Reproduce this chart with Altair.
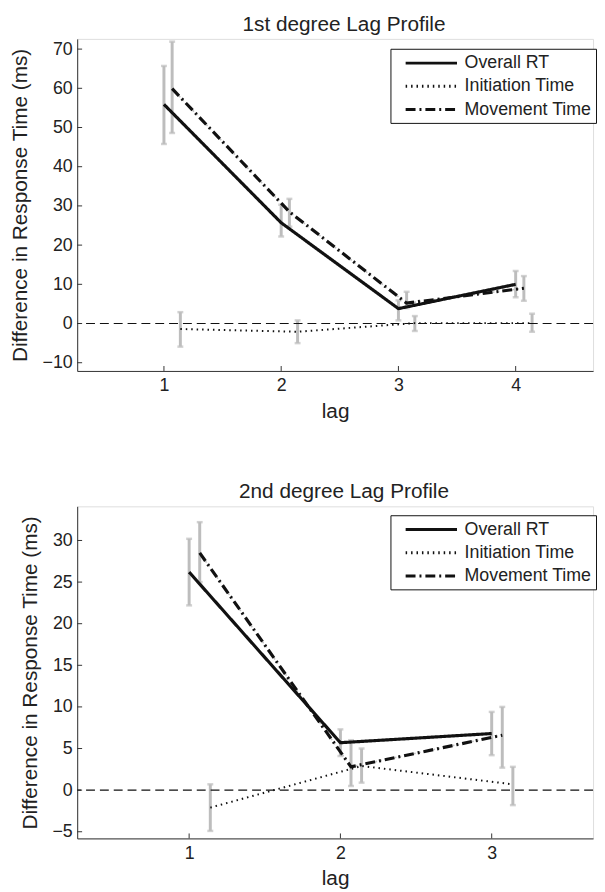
import altair as alt
import pandas as pd

SERIES = ["Overall RT", "Initiation Time", "Movement Time"]
OFFSETS = [0.0, 0.14, 0.07]

# ---- 1st degree lag profile ----
lags1 = [1, 2, 3, 4]
overall1 = [55.9, 25.7, 3.8, 10.0]
overall1_lo = [45.8, 22.2, 0.8, 6.7]
overall1_hi = [65.7, 30.3, 5.9, 13.4]
init1 = [-1.4, -2.1, 0.1, 0.1]
init1_lo = [-5.9, -5.0, -1.9, -2.1]
init1_hi = [2.9, 0.8, 1.9, 2.5]
move1 = [59.9, 28.5, 5.2, 9.0]
move1_lo = [48.6, 24.7, 3.9, 5.8]
move1_hi = [71.9, 31.8, 8.1, 12.1]

# ---- 2nd degree lag profile ----
lags2 = [1, 2, 3]
overall2 = [26.2, 5.7, 6.8]
overall2_lo = [22.2, 4.1, 4.2]
overall2_hi = [30.2, 7.3, 9.4]
init2 = [-2.1, 2.9, 0.7]
init2_lo = [-4.9, 0.9, -1.8]
init2_hi = [0.7, 5.0, 2.8]
move2 = [28.5, 2.8, 6.6]
move2_lo = [25.0, 0.5, 2.7]
move2_hi = [32.2, 6.0, 10.0]

yticks1 = [-10, 0, 10, 20, 30, 40, 50, 60, 70]
yticks2 = [-5, 0, 5, 10, 15, 20, 25, 30]

GRAY = "#bdbdbd"
AXC = "#333333"
TXT = "#222222"
FONT = "Liberation Sans"
W, H = 522, 336


def make_df(lags, vals, los, his):
    rows = []
    for s, off, v, lo, hi in zip(SERIES, OFFSETS, vals, los, his):
        for l, a, b, c in zip(lags, v, lo, hi):
            rows.append(dict(series=s, lag=l, x=l + off, value=a, lo=b, hi=c))
    return pd.DataFrame(rows)


def panel(df, title, xdom, ydom, xticks, yticks, lx, ly):
    xs = alt.Scale(domain=xdom, nice=False, zero=False)
    ys = alt.Scale(domain=ydom, nice=False, zero=False)
    x_axis = alt.Axis(values=xticks, tickSize=0, labelPadding=6, title="lag",
                      titleFontSize=21, titlePadding=6, grid=False, format="d",
                      labelFontSize=18, domainColor=AXC, labelColor=TXT,
                      titleColor=TXT, titleFontWeight="normal", labelFont=FONT,
                      titleFont=FONT)
    y_axis = alt.Axis(values=yticks, tickSize=0, labelPadding=5,
                      title="Difference in Response Time (ms)", titleFontSize=21,
                      titlePadding=12, grid=False, format="d", labelFontSize=18,
                      domainColor=AXC, labelColor=TXT, titleColor=TXT,
                      titleFontWeight="normal", labelFont=FONT, titleFont=FONT)
    base = alt.Chart(df)
    bars = base.mark_rule(color=GRAY, strokeWidth=3).encode(
        x=alt.X("x:Q", scale=xs, axis=x_axis),
        y=alt.Y("lo:Q", scale=ys, axis=y_axis),
        y2="hi:Q",
    )
    cap_lo = base.mark_tick(color=GRAY, orient="horizontal", size=6,
                            thickness=2.5).encode(x="x:Q", y="lo:Q")
    cap_hi = base.mark_tick(color=GRAY, orient="horizontal", size=6,
                            thickness=2.5).encode(x="x:Q", y="hi:Q")
    zero = alt.Chart(pd.DataFrame({"z": [0]})).mark_rule(
        color="#111111", strokeWidth=1.2, strokeDash=[9, 5]).encode(y="z:Q")
    under = base.transform_filter(alt.datum.series == "Movement Time").mark_line(
        color="#c4c4c4", strokeWidth=1.6, strokeDash=[2, 3]).encode(
        x="x:Q", y="value:Q", detail="series:N")
    lines = base.mark_line(color="#111111").encode(
        x="x:Q",
        y="value:Q",
        strokeDash=alt.StrokeDash(
            "series:N",
            scale=alt.Scale(domain=SERIES, range=[[1, 0], [1.5, 4], [10, 4, 2, 4]]),
            legend=alt.Legend(
                title=None, orient="none", legendX=lx, legendY=ly,
                symbolType="M0.1,0H6.1", symbolSize=300,
                symbolStrokeColor="#111111", symbolStrokeWidth=3,
                labelFontSize=18, labelFont=FONT, labelColor=TXT,
                strokeColor="#111111", fillColor="white", padding=4,
                rowPadding=3.5, labelOffset=50, labelLimit=300,
            ),
        ),
        strokeWidth=alt.condition(alt.datum.series == "Initiation Time",
                                  alt.value(2), alt.value(3.2)),
    )
    ytk = alt.Chart(pd.DataFrame({"t": yticks})).mark_rule(
        color=AXC, strokeWidth=1).encode(y="t:Q", x=alt.value(0), x2=alt.value(5))
    xtk = alt.Chart(pd.DataFrame({"t": xticks})).mark_rule(
        color=AXC, strokeWidth=1).encode(x="t:Q", y=alt.value(H), y2=alt.value(H - 5))
    return alt.layer(bars, cap_lo, cap_hi, zero, under, lines, ytk, xtk).properties(
        width=W, height=H,
        title=alt.Title(title, fontSize=21, fontWeight="normal", color=TXT,
                        font=FONT, offset=4, dx=9),
    ).resolve_scale(strokeDash="independent")


df1 = make_df(lags1, [overall1, init1, move1], [overall1_lo, init1_lo, move1_lo],
              [overall1_hi, init1_hi, move1_hi])
df2 = make_df(lags2, [overall2, init2, move2], [overall2_lo, init2_lo, move2_lo],
              [overall2_hi, init2_hi, move2_hi])

p1 = panel(df1, "1st degree Lag Profile", [0.26, 4.66], [-12.1, 72.6], lags1, yticks1, 317, 10)
p2 = panel(df2, "2nd degree Lag Profile", [0.26, 3.67], [-5.8, 34.1], lags2, yticks2, 317, 9)

chart = alt.vconcat(p1, p2, spacing=59).resolve_scale(
    strokeDash="independent", x="independent", y="independent"
).properties(
    padding={"left": 0, "top": 0, "right": 0, "bottom": 0}
).configure_view(stroke=None).configure(background="white")

chart.save("out.html", embed_options={"renderer": "svg", "actions": False})
